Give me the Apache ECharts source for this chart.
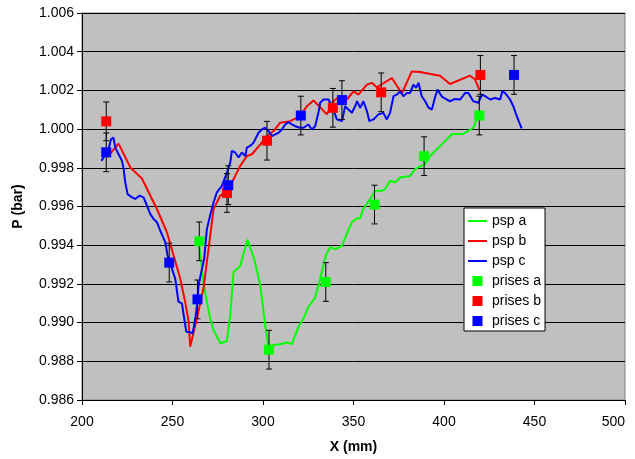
<!DOCTYPE html>
<html>
<head>
<meta charset="utf-8">
<script src="https://cdn.jsdelivr.net/npm/echarts@6/dist/echarts.min.js"></script>
<style>
  html, body { margin: 0; padding: 0; background: #fff; }
  #chart { width: 635px; height: 459px; }
</style>
</head>
<body>
<div id="chart"></div>
<script>
// Pressure profiles along X: continuous PSP traces and discrete tap measurements.
const xTicks = [200, 250, 300, 350, 400, 450, 500];
const yTicks = [0.986, 0.988, 0.990, 0.992, 0.994, 0.996, 0.998, 1.000, 1.002, 1.004, 1.006];

const pspA = [
  [264.8, 0.99397], [267.1, 0.99210], [269.0, 0.99107], [270.8, 0.99022], [272.7, 0.98961],
  [276.4, 0.98893], [280.1, 0.98905], [281.9, 0.99039], [283.7, 0.99262], [287.4, 0.99293],
  [291.4, 0.99429], [295.1, 0.99330], [298.5, 0.99193], [301.2, 0.98987], [303.0, 0.98876],
  [305.8, 0.98884], [309.5, 0.98888], [313.2, 0.98897], [316.0, 0.98889], [319.6, 0.98979],
  [322.4, 0.99022], [325.1, 0.99082], [328.8, 0.99128], [331.6, 0.99227], [334.7, 0.99347],
  [337.1, 0.99390], [339.9, 0.99378], [343.6, 0.99398], [346.3, 0.99459], [349.1, 0.99519],
  [351.9, 0.99539], [353.7, 0.99539], [355.3, 0.99587], [359.2, 0.99639], [362.0, 0.99681],
  [365.7, 0.99681], [367.5, 0.99690], [370.2, 0.99733], [373.0, 0.99724], [375.8, 0.99750],
  [381.3, 0.99758], [384.0, 0.99793], [386.8, 0.99807], [389.6, 0.99819], [392.3, 0.99861],
  [396.0, 0.99896], [399.7, 0.99930], [404.3, 0.99973], [410.7, 0.99976], [416.2, 1.00007],
  [418.1, 1.00050], [419.5, 1.00070]
];

const pspB = [
  [214.0, 0.99855], [220.2, 0.99925], [226.7, 0.99802], [233.1, 0.99745], [241.4, 0.99587],
  [246.9, 0.99467], [250.6, 0.99347], [254.3, 0.99227], [257.0, 0.99107], [258.9, 0.99005],
  [259.8, 0.98876], [263.5, 0.99022], [267.1, 0.99176], [272.7, 0.99587], [276.4, 0.99656],
  [280.1, 0.99680], [283.7, 0.99741], [287.4, 0.99810], [291.1, 0.99861], [293.9, 0.99870],
  [298.5, 0.99921], [302.2, 0.99964], [305.8, 0.99990], [309.5, 1.00033], [315.0, 1.00041],
  [320.5, 1.00067], [324.2, 1.00118], [327.9, 1.00148], [335.3, 1.00076], [338.9, 1.00144],
  [342.6, 1.00170], [346.3, 1.00153], [350.0, 1.00195], [352.7, 1.00178], [357.4, 1.00230],
  [360.1, 1.00239], [362.9, 1.00216], [371.2, 1.00264], [376.7, 1.00184], [382.2, 1.00298],
  [386.8, 1.00295], [397.8, 1.00276], [403.3, 1.00233], [414.4, 1.00276], [417.2, 1.00256],
  [419.9, 1.00195]
];

const pspC = [
  [210.7, 0.99836], [211.9, 0.99853], [214.7, 0.99896], [216.0, 0.99947], [217.4, 0.99956],
  [218.4, 0.99904], [220.2, 0.99870], [222.1, 0.99836], [223.0, 0.99793], [223.9, 0.99724],
  [225.2, 0.99664], [227.6, 0.99647], [229.4, 0.99639], [231.8, 0.99656], [234.0, 0.99647],
  [235.9, 0.99604], [237.7, 0.99561], [239.5, 0.99536], [241.4, 0.99519], [243.2, 0.99476],
  [246.0, 0.99416], [247.3, 0.99347], [248.8, 0.99304], [251.5, 0.99227], [253.3, 0.99107],
  [255.2, 0.99099], [257.6, 0.98953], [259.8, 0.98950], [261.1, 0.98944], [262.6, 0.99022],
  [263.8, 0.99107], [264.4, 0.99193], [266.3, 0.99279], [267.5, 0.99330], [269.0, 0.99484],
  [270.8, 0.99553], [272.7, 0.99622], [274.5, 0.99673], [277.3, 0.99707], [280.1, 0.99776],
  [281.9, 0.99827], [282.8, 0.99887], [284.6, 0.99879], [286.5, 0.99853], [288.3, 0.99879],
  [290.2, 0.99861], [291.1, 0.99904], [292.9, 0.99913], [294.8, 0.99930], [297.5, 0.99981],
  [299.4, 0.99998], [301.2, 1.00007], [303.0, 0.99990], [304.9, 0.99964], [306.7, 0.99973],
  [308.6, 0.99981], [310.4, 0.99998], [312.3, 1.00024], [314.1, 1.00036], [316.0, 1.00024],
  [317.8, 1.00015], [320.5, 1.00007], [322.4, 1.00007], [325.1, 1.00024], [327.0, 0.99998],
  [328.8, 1.00015], [330.6, 1.00084], [331.6, 1.00136], [333.4, 1.00153], [336.2, 1.00153],
  [338.9, 1.00101], [340.8, 1.00050], [343.6, 1.00041], [345.4, 1.00118], [347.2, 1.00101],
  [349.1, 1.00084], [350.9, 1.00118], [352.0, 1.00144], [353.7, 1.00110], [355.5, 1.00144],
  [357.4, 1.00093], [358.8, 1.00041], [361.0, 1.00050], [363.8, 1.00076], [366.5, 1.00084],
  [368.4, 1.00050], [370.2, 1.00084], [372.1, 1.00170], [373.9, 1.00178], [375.8, 1.00195],
  [377.6, 1.00170], [379.5, 1.00187], [381.3, 1.00187], [383.1, 1.00230], [384.6, 1.00213],
  [385.9, 1.00239], [387.7, 1.00170], [389.6, 1.00144], [391.4, 1.00112], [393.3, 1.00101],
  [395.1, 1.00166], [396.4, 1.00204], [398.8, 1.00168], [401.5, 1.00153], [403.4, 1.00144],
  [406.1, 1.00156], [408.9, 1.00153], [411.7, 1.00187], [413.5, 1.00187], [416.2, 1.00144],
  [419.0, 1.00136], [420.9, 1.00178], [422.7, 1.00170], [425.5, 1.00153], [428.2, 1.00161],
  [431.0, 1.00153], [432.2, 1.00195], [433.7, 1.00187], [436.5, 1.00153], [438.3, 1.00118],
  [440.2, 1.00067], [442.0, 1.00024], [442.9, 1.00004]
];

// Pressure-tap readings
const prisesA = [[264.8, 0.9942], [303.3, 0.9886], [334.7, 0.9921], [361.6, 0.9961], [389.0, 0.9986], [419.5, 1.0007]];
const prisesB = [[213.4, 1.0004], [280.1, 0.9967], [302.2, 0.9994], [338.6, 1.0011], [365.3, 1.0019], [420.1, 1.0028]];
const prisesC = [[213.4, 0.9988], [248.2, 0.9931], [263.8, 0.9912], [280.8, 0.9971], [320.9, 1.0007], [343.6, 1.0015], [438.7, 1.0028]];
const tapError = 0.001;

const FONT = 'Arial, "Liberation Sans", sans-serif';
const GREEN = '#00FF00', RED = '#FF0000', BLUE = '#0000FF';
const LINE_ICON = 'path://M0,0 L19,0 L19,2 L0,2 Z';
const SQUARE_ICON = 'path://M0,0 L10,0 L10,10 L0,10 Z';

function errorBars(points) {
  return {
    type: 'custom',
    silent: true,
    z: 3,
    data: points.map(p => [p[0], p[1] - tapError, p[1] + tapError]),
    renderItem: function (params, api) {
      const lo = api.coord([api.value(0), api.value(1)]);
      const hi = api.coord([api.value(0), api.value(2)]);
      const w = 3;
      const style = { stroke: '#000', lineWidth: 1 };
      return {
        type: 'group',
        children: [
          { type: 'line', shape: { x1: lo[0], y1: lo[1], x2: hi[0], y2: hi[1] }, style: style },
          { type: 'line', shape: { x1: lo[0] - w, y1: lo[1], x2: lo[0] + w, y2: lo[1] }, style: style },
          { type: 'line', shape: { x1: hi[0] - w, y1: hi[1], x2: hi[0] + w, y2: hi[1] }, style: style }
        ]
      };
    }
  };
}

function lineSeries(name, data, color) {
  return {
    name: name, type: 'line', data: data, symbol: 'none', z: 2,
    lineStyle: { color: color, width: 2 }, itemStyle: { color: color },
    animation: false
  };
}

function tapSeries(name, data, color) {
  return {
    name: name, type: 'scatter', data: data, symbol: 'rect', symbolSize: 10, z: 4,
    itemStyle: { color: color, opacity: 1 }, animation: false
  };
}

const chart = echarts.init(document.getElementById('chart'), null, { renderer: 'canvas' });
chart.setOption({
  animation: false,
  backgroundColor: '#FFFFFF',
  grid: {
    left: 82, right: 10, top: 13, bottom: 57,
    show: true, backgroundColor: '#C0C0C0', borderColor: '#808080', borderWidth: 1
  },
  xAxis: {
    type: 'value', min: xTicks[0], max: xTicks[xTicks.length - 1], interval: 50,
    name: 'X (mm)', nameLocation: 'middle', nameGap: 40,
    nameTextStyle: { fontFamily: FONT, fontSize: 14, fontWeight: 'bold', color: '#000' },
    axisLine: { show: true, onZero: false, lineStyle: { color: '#000', width: 1 } },
    axisTick: { show: true, length: 5, lineStyle: { color: '#000' } },
    axisLabel: { fontFamily: FONT, fontSize: 14, color: '#000', margin: 15, alignMaxLabel: 'right' },
    splitLine: { show: false }
  },
  yAxis: {
    type: 'value', min: yTicks[0], max: yTicks[yTicks.length - 1], interval: 0.002,
    name: 'P (bar)', nameLocation: 'middle', nameGap: 57, nameRotate: 90,
    nameTextStyle: { fontFamily: FONT, fontSize: 14, fontWeight: 'bold', color: '#000' },
    axisLine: { show: true, lineStyle: { color: '#000', width: 1 } },
    axisTick: { show: true, length: 5, lineStyle: { color: '#000' } },
    axisLabel: { fontFamily: FONT, fontSize: 14, color: '#000', margin: 8,
      formatter: v => v.toFixed(3) },
    splitLine: { show: true, lineStyle: { color: '#000', width: 1 } }
  },
  legend: {
    orient: 'vertical', left: 464, top: 208,
    backgroundColor: '#FFFFFF', borderColor: '#000', borderWidth: 1,
    padding: [3, 4, 0, 4], itemGap: 0, itemWidth: 19, itemHeight: 10,
    symbolKeepAspect: true,
    textStyle: { fontFamily: FONT, fontSize: 14, color: '#000', lineHeight: 20 },
    data: [
      { name: 'psp a', icon: LINE_ICON }, { name: 'psp b', icon: LINE_ICON }, { name: 'psp c', icon: LINE_ICON },
      { name: 'prises a', icon: SQUARE_ICON }, { name: 'prises b', icon: SQUARE_ICON }, { name: 'prises c', icon: SQUARE_ICON }
    ]
  },
  series: [
    lineSeries('psp a', pspA, GREEN),
    lineSeries('psp b', pspB, RED),
    lineSeries('psp c', pspC, BLUE),
    errorBars(prisesA), errorBars(prisesB), errorBars(prisesC),
    tapSeries('prises a', prisesA, GREEN),
    tapSeries('prises b', prisesB, RED),
    tapSeries('prises c', prisesC, BLUE)
  ]
});
</script>
</body>
</html>
